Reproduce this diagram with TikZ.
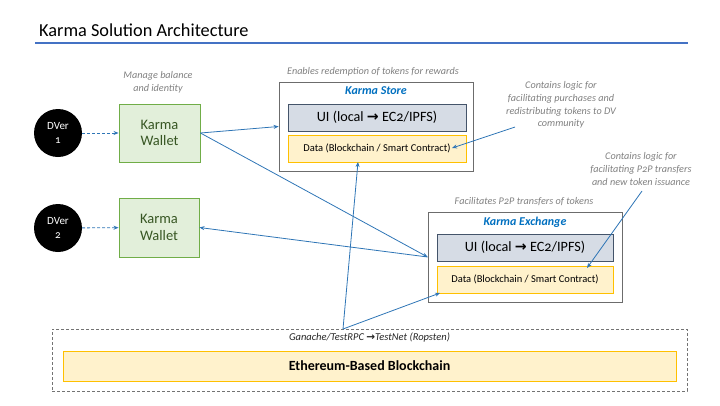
\documentclass[tikz,border=0pt]{standalone}
\usepackage{fontspec}
\setmainfont{Carlito}[Numbers=OldStyle]
\newfontfamily\symfont{DejaVu Sans}
\usetikzlibrary{arrows.meta}
\definecolor{cblue}{HTML}{2E75B6}
\definecolor{tblue}{HTML}{0070C0}
\definecolor{lineblue}{HTML}{4472C4}
\definecolor{gfill}{HTML}{E2EFDA}
\definecolor{gdraw}{HTML}{70AD47}
\definecolor{gtext}{HTML}{375623}
\definecolor{uifill}{HTML}{D6DCE5}
\definecolor{uidraw}{HTML}{44546A}
\definecolor{dfill}{HTML}{FFF2CC}
\definecolor{ddraw}{HTML}{FFC000}
\definecolor{agray}{HTML}{808080}
\newcommand{\barrow}{{\symfont\bfseries →}}
\tikzset{
  dver/.style={circle, fill=black, minimum size=48pt, inner sep=0pt, text=white, font=\fontsize{11}{13.5}\selectfont, align=center},
  wallet/.style={draw=gdraw, line width=0.9pt, fill=gfill, minimum width=81pt, minimum height=58pt, text=gtext, font=\fontsize{14.5}{16.5}\selectfont, align=center, inner sep=0pt},
  outerbox/.style={draw=gray!85!black, line width=0.8pt, fill=white, minimum width=194pt, minimum height=89pt, inner sep=0pt},
  uibox/.style={draw=uidraw, line width=0.9pt, fill=uifill, minimum width=178pt, minimum height=27pt, font=\fontsize{14.2}{16}\selectfont, inner sep=0pt},
  databox/.style={draw=ddraw, line width=0.9pt, fill=dfill, minimum width=178pt, minimum height=27pt, font=\fontsize{10.5}{12}\selectfont, inner sep=0pt},
  note/.style={text=agray, font=\fontsize{10.2}{12.7}\selectfont\itshape, align=center, inner sep=0pt},
  boxtitle/.style={text=tblue, font=\fontsize{12}{14}\selectfont\bfseries\itshape, inner sep=0pt},
  conn/.style={draw=cblue, line width=0.8pt, -{Stealth[length=5pt,width=4pt]}},
  dconn/.style={draw=cblue, line width=0.8pt, dash pattern=on 3pt off 2pt, -{Stealth[length=5pt,width=4pt]}},
}
\begin{document}
\begin{tikzpicture}[x=1pt,y=-1pt]
\useasboundingbox (0,0) rectangle (720,405);
% title
\node[anchor=west, inner sep=0pt, font=\fontsize{18.3}{21}\selectfont] (title) at (39,30) {Karma Solution Architecture};
\draw[lineblue, line width=2pt] (35,43) -- (688,43);

% DVers and wallets
\node[dver] (d1) at (58,133) {DVer\\1};
\node[dver] (d2) at (58,228) {DVer\\2};
\node[wallet] (w1) at (159.5,133) {Karma\\Wallet};
\node[wallet, minimum width=80pt, minimum height=59pt] (w2) at (159,227.5) {Karma\\Wallet};
\node[note] (n1) at (158,82.5) {Manage balance\\and identity};

% Karma Store
\node[outerbox] (store) at (376,126.5) {};
\node[boxtitle] (stitle) at (376,91) {Karma Store};
\node[uibox] (sui) at (377,117.5) {UI (local \barrow\ EC2/IPFS)};
\node[databox] (sdata) at (377,148.5) {Data (Blockchain / Smart Contract)};
\node[note] (n2) at (373,72) {Enables redemption of tokens for rewards};
\node[note] (n3) at (561,105) {Contains logic for\\facilitating purchases and\\redistributing tokens to DV\\community};

% Karma Exchange
\node[outerbox, minimum height=90pt] (ex) at (525,257) {};
\node[boxtitle] (etitle) at (525,222) {Karma Exchange};
\node[uibox, minimum width=176pt] (eui) at (525,247.5) {UI (local \barrow\ EC2/IPFS)};
\node[databox, minimum width=176pt] (edata) at (525,279.5) {Data (Blockchain / Smart Contract)};
\node[note] (n4) at (524,202) {Facilitates P2P transfers of tokens};
\node[note] (n5) at (641,169) {Contains logic for\\facilitating P2P transfers\\and new token issuance};

% Blockchain
\node[draw=gray!90!black, line width=0.7pt, dash pattern=on 3pt off 2pt, minimum width=635pt, minimum height=62pt, inner sep=0pt] (chain) at (369.5,360) {};
\node[inner sep=0pt, font=\fontsize{10.5}{12}\selectfont\itshape, text=black!85] (ganache) at (369.5,338) {Ganache/TestRPC \barrow TestNet (Ropsten)};
\node[draw=ddraw, line width=1pt, fill=dfill, minimum width=613pt, minimum height=30pt, inner sep=0pt, font=\fontsize{14}{16}\selectfont\bfseries] (eth) at (369.5,366) {Ethereum-Based Blockchain};
\coordinate (j) at (343,329);
\coordinate (sdin) at (358,162);
\coordinate (edin) at (440,293);
\coordinate (n3out) at (515,127);
\coordinate (sdarr) at (452,148);
\coordinate (n5out) at (642,191);
\coordinate (edarr) at (587,268);

% connectors
\draw[dconn] (d1) -- (w1);
\draw[dconn] (d2) -- (w2);
\draw[conn] (w1.east) -- (store.west);
\draw[conn] (w1.east) -- (ex.west);
\draw[conn] (ex.west) -- (w2.east);
\draw[conn] (j) -- (sdin);
\draw[conn] (j) -- (edin);
\draw[conn] (n3out) -- (sdarr);
\draw[conn] (n5out) -- (edarr);
\end{tikzpicture}
\end{document}
